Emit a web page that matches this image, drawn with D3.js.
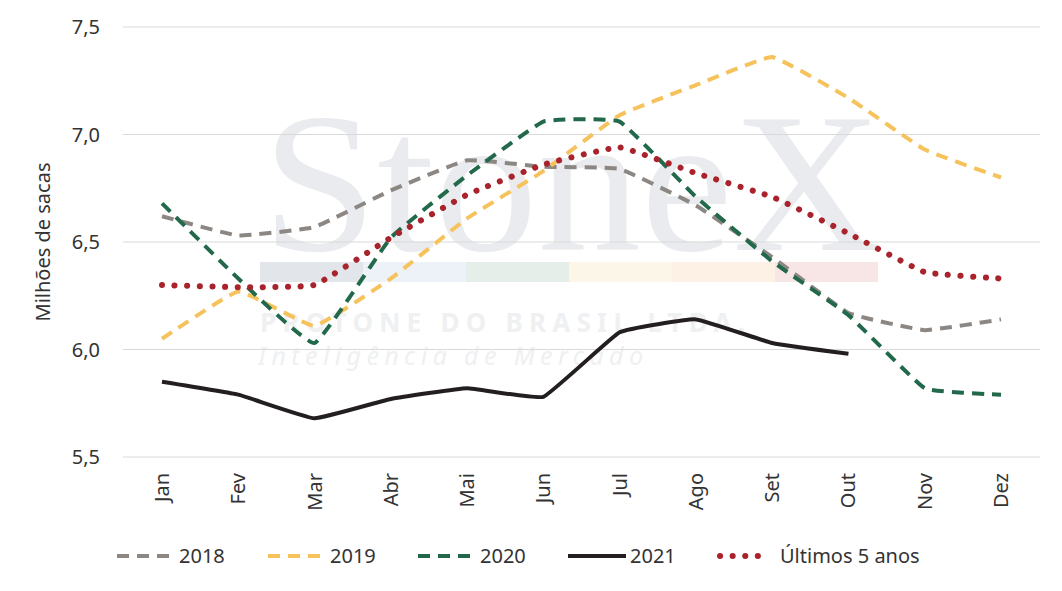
<!DOCTYPE html>
<html><head><meta charset="utf-8">
<script src="https://cdn.jsdelivr.net/npm/d3@7"></script>
<style>body{margin:0;background:#fff}text{font-family:"Noto Sans",sans-serif}</style>
</head><body>
<svg id="chart" width="1062" height="591"></svg>
<script>
var months = ["Jan","Fev","Mar","Abr","Mai","Jun","Jul","Ago","Set","Out","Nov","Dez"];
var yTicks = [5.5, 6.0, 6.5, 7.0, 7.5];
var s2018 = [6.62,6.53,6.57,6.74,6.88,6.85,6.84,6.67,6.43,6.17,6.09,6.14];
var s2019 = [6.05,6.27,6.11,6.33,6.61,6.83,7.09,7.23,7.36,7.17,6.93,6.80];
var s2020 = [6.68,6.33,6.03,6.52,6.81,7.06,7.06,6.71,6.41,6.16,5.82,5.79];
var s2021 = [5.85,5.79,5.68,5.77,5.82,5.78,6.08,6.14,6.03,5.98];
var s5anos = [6.30,6.29,6.30,6.52,6.72,6.86,6.94,6.82,6.71,6.54,6.36,6.33];

var series = [
  {name:"2018", data:s2018, color:"#8c8783", dash:"12,8", cap:"butt"},
  {name:"2019", data:s2019, color:"#f6c25c", dash:"12,8", cap:"butt"},
  {name:"2020", data:s2020, color:"#21694a", dash:"12,8", cap:"butt"},
  {name:"2021", data:s2021, color:"#231f20", dash:null, cap:"butt"},
  {name:"Últimos 5 anos", data:s5anos, color:"#a8232b", dash:"0.1,12.5", cap:"round"}
];

var svg = d3.select("#chart");
var x = d3.scalePoint().domain(months).range([162, 1001]);
var y = d3.scaleLinear().domain([5.5, 7.5]).range([457, 27]);

// watermark
svg.append("text").attr("x", 262).attr("y", 250).attr("textLength", 620).attr("lengthAdjust","spacingAndGlyphs")
  .style("font-family","Liberation Serif").style("font-size","200px").attr("fill","#e9ebee").text("StoneX");
var wmCols = ["#e2e5ea","#ecf2f8","#e6eee9","#fcf6e8","#fcf1e4","#f8e5e5"];
svg.selectAll("rect.wm").data(wmCols).enter().append("rect")
  .attr("x", function(d,i){return 260 + i*103;}).attr("y", 262).attr("width", 103).attr("height", 20).attr("fill", function(d){return d;});
svg.append("text").attr("x",260).attr("y",332).attr("textLength",485).style("font-size","26px").style("font-weight","bold")
  .attr("fill","#eef0f2").text("PROTONE DO BRASIL LTDA.");
svg.append("text").attr("x",258).attr("y",365).attr("textLength",385).style("font-size","25px").style("font-style","italic")
  .attr("fill","#eef0f2").text("Inteligência de Mercado");

// grid
svg.selectAll("line.grid").data(yTicks).enter().append("line")
  .attr("x1",123).attr("x2",1040).attr("y1",function(d){return y(d);}).attr("y2",function(d){return y(d);})
  .attr("stroke","#d9d9d9").attr("stroke-width",1);

var fmt = function(d){return d3.format(".1f")(d).replace(".",",");};
svg.selectAll("text.yt").data(yTicks).enter().append("text")
  .attr("x",100).attr("y",function(d){return y(d)+7;}).attr("text-anchor","end")
  .style("font-size","20px").attr("fill","#333").text(fmt);

svg.append("text").attr("transform","translate(50,242) rotate(-90)").attr("text-anchor","middle")
  .style("font-size","20px").attr("fill","#333").text("Milhões de sacas");

svg.selectAll("text.xt").data(months).enter().append("text")
  .attr("transform",function(d){return "translate("+(x(d)+7)+",473) rotate(-90)";})
  .attr("text-anchor","end").style("font-size","20px").attr("fill","#333").text(function(d){return d;});

var line = d3.line().x(function(d,i){return x(months[i]);}).y(function(d){return y(d);})
  .curve(d3.curveCardinal.tension(0.7));
series.forEach(function(s){
  svg.append("path").datum(s.data).attr("d", line).attr("fill","none")
    .attr("stroke", s.color).attr("stroke-width", s.cap=="round" ? 6 : 4)
    .attr("stroke-dasharray", s.dash).attr("stroke-linecap", s.cap);
});

// legend
var legX = [117, 268, 418, 568, 720];
var lg = svg.selectAll("g.leg").data(series).enter().append("g")
  .attr("transform",function(d,i){return "translate("+legX[i]+",556)";});
lg.append("line").attr("x1",0).attr("x2",function(d){return d.cap=="round"?50:58;}).attr("y1",0).attr("y2",0)
  .attr("stroke",function(d){return d.color;}).attr("stroke-width",function(d){return d.cap=="round"?6:4;})
  .attr("stroke-dasharray",function(d){return d.dash;}).attr("stroke-linecap",function(d){return d.cap;});
lg.append("text").attr("x",function(d){return d.cap=="round"?60:62;}).attr("y",7)
  .style("font-size","20px").attr("fill","#333").text(function(d){return d.name;});
</script>
</body></html>
